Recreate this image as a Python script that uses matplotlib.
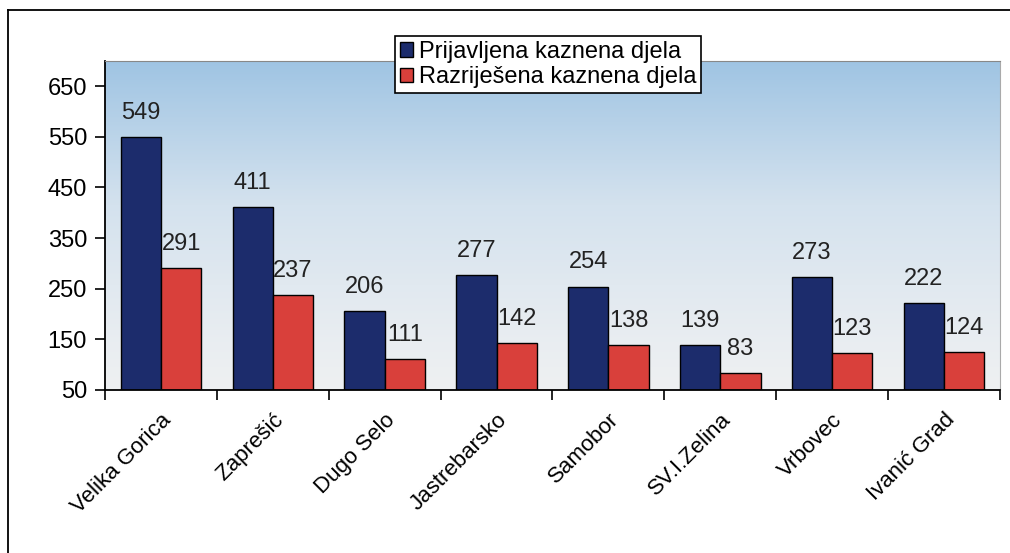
import numpy as np
import matplotlib.pyplot as plt
from matplotlib.lines import Line2D
from matplotlib.colors import LinearSegmentedColormap

plt.rcParams['font.family'] = ['Liberation Sans', 'DejaVu Sans']

# data
gradovi = ['Velika Gorica', 'Zaprešić', 'Dugo Selo', 'Jastrebarsko',
           'Samobor', 'SV.I.Zelina', 'Vrbovec', 'Ivanić Grad']
prijavljena = [549, 411, 206, 277, 254, 139, 273, 222]
razrijesena = [291, 237, 111, 142, 138, 83, 123, 124]
yticks = [50, 150, 250, 350, 450, 550, 650]

fs = 17

fig = plt.figure(figsize=(10.1, 5.53), dpi=100)
ax = fig.add_axes([0.104, 0.295, 0.886, 0.595])

# outer frame (only top and left edges are inside the picture)
fig.lines.append(Line2D([0.008, 1.0], [0.982, 0.982], transform=fig.transFigure,
                        color='black', linewidth=1.3))
fig.lines.append(Line2D([0.008, 0.008], [0.0, 0.982], transform=fig.transFigure,
                        color='black', linewidth=1.3))

x = np.arange(len(gradovi))
w = 0.36
ymin, ymax = 50, 700

# gradient background
cmap = LinearSegmentedColormap.from_list('bg', ['#eef0f2', '#d4e2ee', '#9fc4e3'])
grad = np.linspace(0, 1, 256).reshape(-1, 1) ** 1.2
ax.imshow(grad, aspect='auto', cmap=cmap, origin='lower',
          extent=(-0.5, len(gradovi) - 0.5, ymin, ymax), zorder=0)

ax.bar(x - w / 2, np.array(prijavljena) - ymin, w, bottom=ymin, color='#1c2c6c',
       edgecolor='black', linewidth=1.0, zorder=2, label='Prijavljena kaznena djela')
ax.bar(x + w / 2, np.array(razrijesena) - ymin, w, bottom=ymin, color='#d9403b',
       edgecolor='black', linewidth=1.0, zorder=2, label='Razriješena kaznena djela')

for xi, v in zip(x - w / 2, prijavljena):
    ax.text(xi, v + 26, str(v), ha='center', va='bottom', fontsize=fs, color='#222222')
for xi, v in zip(x + w / 2, razrijesena):
    ax.text(xi, v + 26, str(v), ha='center', va='bottom', fontsize=fs, color='#222222')

ax.set_xlim(-0.5, len(gradovi) - 0.5)
ax.set_ylim(ymin, ymax)
ax.set_yticks(yticks)
ax.tick_params(axis='y', labelsize=fs, length=7, width=1.2, direction='out', pad=6)
ax.set_xticks(x)
ax.set_xticklabels(gradovi, rotation=45, ha='right', rotation_mode='anchor', fontsize=16)
ax.tick_params(axis='x', length=0, pad=14)
ax.set_xticks(np.arange(len(gradovi) + 1) - 0.5, minor=True)
ax.tick_params(axis='x', which='minor', length=7, width=1.2)

ax.spines['left'].set_linewidth(1.3)
ax.spines['bottom'].set_linewidth(1.3)
ax.spines['top'].set_color('#888888')
ax.spines['right'].set_color('#aaaaaa')

leg = ax.legend(loc='upper center', bbox_to_anchor=(0.495, 1.075), fontsize=fs,
                frameon=True, fancybox=False, edgecolor='black', framealpha=1,
                handlelength=0.55, handleheight=0.55, handletextpad=0.25,
                borderpad=0.2, labelspacing=0.15, borderaxespad=0)
leg.get_frame().set_linewidth(1.2)

fig.savefig('out.png', dpi=100)
